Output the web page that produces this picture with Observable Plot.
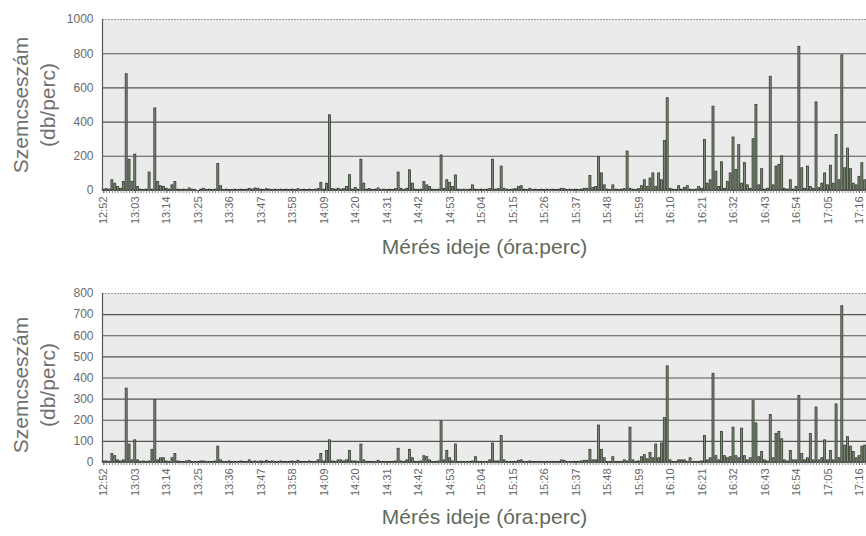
<!DOCTYPE html>
<html><head><meta charset="utf-8">
<script src="https://cdn.jsdelivr.net/npm/d3@7"></script>
<script src="https://cdn.jsdelivr.net/npm/@observablehq/plot@0.6"></script>
<style>
body{margin:0;background:#fff;font-family:"Liberation Sans",Arial,sans-serif;}
#c{width:866px;overflow:hidden;}
svg{display:block;}
</style></head><body><div id="c"></div>
<script>
// Minutes from 12:52, one bar per minute
const startHour = 12, startMinute = 52, nMinutes = 267;
const tickLabels = ["12:52","13:03","13:14","13:25","13:36","13:47","13:58","14:09","14:20","14:31","14:42","14:53","15:04","15:15","15:26","15:37","15:48","15:59","16:10","16:21","16:32","16:43","16:54","17:05","17:16"];
const topTicks = [0,200,400,600,800,1000];
const bottomTicks = [0,100,200,300,400,500,600,700,800];
const yTitle = "Szemcseszám\n(db/perc)";
const xTitle = "Mérés ideje (óra:perc)";

const topValues = [
5,8,5,60,40,20,10,50,680,180, 50,210,20,5,3,5,105,5,480,50,
25,20,10,5,30,50,5,3,5,3, 12,5,3,0,5,10,3,5,3,5,
155,25,3,5,3,3,5,3,5,3, 5,10,5,12,10,5,3,8,5,3,
5,3,5,3,5,3,5,3,8,3, 5,3,5,3,5,8,45,5,40,440,
8,5,10,5,8,20,90,5,15,5, 180,40,5,8,3,5,12,3,5,3,
5,3,8,105,10,3,10,118,40,5, 3,5,50,30,20,5,3,5,205,10,
60,45,20,88,5,3,5,3,5,30, 5,3,5,3,5,8,180,5,8,140,
10,5,3,5,8,20,25,5,3,10, 3,5,3,5,3,5,3,5,3,5,
10,8,3,5,3,5,3,5,10,10, 85,15,20,195,100,30,5,3,30,5,
3,5,8,228,10,5,3,8,25,60, 20,70,100,20,100,60,290,540,10,5,
3,25,5,15,25,5,3,5,20,10, 295,40,60,490,110,20,165,10,50,100,
310,120,265,40,160,30,10,300,500,30, 125,5,10,665,30,140,150,200,10,5,
60,5,20,840,130,10,140,20,10,515, 15,40,100,30,145,40,325,60,790,130,
245,125,40,30,80,160,60];

const bottomValues = [
5,5,3,40,30,10,5,10,350,85, 10,105,10,3,5,3,5,60,295,10,
20,20,5,3,20,40,5,3,3,5, 8,3,3,3,5,5,3,3,3,5,
75,10,3,3,5,3,3,3,5,3, 3,10,3,5,3,5,3,8,3,5,
3,3,5,3,3,3,5,3,8,3, 3,3,5,3,3,10,40,5,55,105,
5,3,10,10,5,10,55,5,5,3, 85,10,3,3,3,3,8,3,3,3,
3,3,5,65,5,3,10,60,20,3, 3,5,30,25,10,3,3,5,195,10,
55,20,5,85,3,3,3,3,3,5, 25,3,3,3,3,10,90,5,5,125,
10,3,3,3,3,8,10,3,3,5, 3,3,3,3,3,3,3,3,3,3,
10,8,3,3,3,3,3,5,8,8, 60,10,10,175,60,20,3,3,25,3,
3,3,10,5,165,10,3,5,25,35, 15,45,20,85,20,90,210,455,10,3,
3,10,10,10,3,20,3,3,3,5, 125,10,20,420,30,10,145,30,20,25,
165,30,20,160,30,10,20,290,185,25, 50,10,5,225,20,135,145,110,10,5,
55,10,10,315,40,10,20,135,10,260, 10,20,105,10,55,10,275,20,740,80,
120,75,50,20,30,75,80];

const times = d3.range(nMinutes).map(i => {
  const m = startHour * 60 + startMinute + i;
  return `${Math.floor(m / 60)}:${String(m % 60).padStart(2, "0")}`;
});

function panel(values, yTickVals, {height, marginTop, marginBottom, xTitleDy, yTitleDy}) {
  const yMax = yTickVals[yTickVals.length - 1];
  const data = times.map((t, i) => ({t, v: values[i]}));
  const chart = Plot.plot({
    width: 866, height, marginLeft: 102, marginRight: 0, marginTop, marginBottom,
    style: {fontFamily: "'Liberation Sans', Arial, sans-serif", background: "transparent", color: "#666", overflow: "visible"},
    x: {type: "band", domain: times, paddingInner: 0.3, paddingOuter: 0.1},
    y: {domain: [0, yMax]},
    marks: [
      Plot.frame({fill: "#ebebeb", stroke: null}),
      Plot.ruleY(yTickVals.filter(d => d > 0 && d < yMax), {stroke: "#555", strokeWidth: 1.1}),
      Plot.ruleY([yMax], {stroke: "#999", strokeDasharray: "2,1"}),
      Plot.barY(data, {x: "t", y: "v", fill: "#7f887b", stroke: "#2f3c2b", strokeWidth: 0.8}),
      Plot.ruleY([0], {stroke: "#444", strokeWidth: 1.2}),
      Plot.axisX({ticks: times, tickSize: 3, tickFormat: () => "", label: null, stroke: "#888"}),
      Plot.axisX({ticks: tickLabels, tickRotate: -90, tickSize: 3, tickPadding: 3, fontSize: 11, label: null, fill: "#666"}),
      Plot.axisY({ticks: yTickVals, tickSize: 0, tickPadding: 9, fontSize: 12, label: null, fill: "#6a6a6a", tickFormat: d => String(d)}),
      Plot.text([yTitle], {text: d => d, frameAnchor: "left", dx: -70, dy: yTitleDy, rotate: -90, textAnchor: "middle", fontSize: 21, lineHeight: 1.3, fill: "#707070"}),
      Plot.text([xTitle], {text: d => d, frameAnchor: "bottom", dy: xTitleDy, fontSize: 21, fill: "#5f6b5c"})
    ]
  });
  const svg = d3.select(chart);
  svg.append("line").attr("x1", 102.5).attr("x2", 102.5).attr("y1", marginTop).attr("y2", height - marginBottom)
    .attr("stroke", "#555").attr("stroke-width", 1.2);
  return chart;
}

const c = document.getElementById("c");
c.append(panel(topValues, topTicks, {height: 270, marginTop: 19, marginBottom: 80, xTitleDy: 63, yTitleDy: 0}));
c.append(panel(bottomValues, bottomTicks, {height: 266, marginTop: 23, marginBottom: 74, xTitleDy: 61, yTitleDy: 7}));
</script></body></html>
